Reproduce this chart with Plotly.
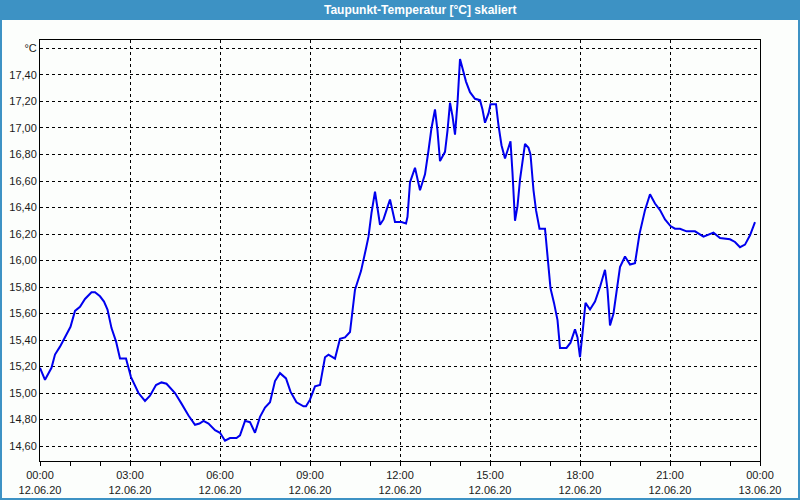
import plotly.graph_objects as go

times = ["00:00","00:10","00:23","00:30","00:40","00:50","01:01","01:10","01:20","01:30",
         "01:43","01:50","02:00","02:08","02:15","02:23","02:32","02:40","02:52","03:02",
         "03:17","03:30","03:40","03:52","04:03","04:13","04:30","04:43","04:57","05:10",
         "05:19","05:27","05:37","05:50","06:00","06:10","06:20","06:33","06:40","06:50",
         "07:00","07:10","07:20","07:30","07:40","07:50","08:00","08:12","08:21","08:33",
         "08:47","08:52","09:00","09:10","09:20","09:30","09:37","09:50","10:00","10:10",
         "10:20","10:30","10:42","10:52","10:57","11:03","11:10","11:20","11:27","11:33",
         "11:40","11:50","12:03","12:12","12:15","12:20","12:30","12:40","12:50","12:57",
         "13:03","13:10","13:15","13:20","13:30","13:35","13:40","13:45","13:50","13:55",
         "14:00","14:05","14:12","14:20","14:30","14:40","14:45","14:50","14:57","15:01",
         "15:12","15:17","15:23","15:30","15:37","15:41","15:45","15:50","15:55","16:00",
         "16:10","16:17","16:21","16:27","16:32","16:39","16:50","16:57","17:01","17:08",
         "17:15","17:20","17:33","17:41","17:50","17:55","18:00","18:05","18:11","18:20",
         "18:30","18:40","18:50","18:55","19:00","19:07","19:13","19:20","19:30","19:40",
         "19:50","19:59","20:10","20:20","20:30","20:40","20:50","21:01","21:10","21:20",
         "21:33","21:50","22:07","22:27","22:40","23:00","23:10","23:20","23:30","23:40",
         "23:50"]

dewpoint = [15.19,15.10,15.19,15.29,15.35,15.42,15.50,15.62,15.65,15.71,
            15.76,15.76,15.73,15.69,15.63,15.49,15.39,15.26,15.26,15.12,
            15.00,14.94,14.98,15.06,15.08,15.07,15.00,14.92,14.83,14.76,
            14.77,14.79,14.77,14.72,14.70,14.64,14.66,14.66,14.68,14.79,
            14.78,14.70,14.82,14.89,14.93,15.09,15.15,15.11,15.01,14.93,
            14.90,14.90,14.95,15.05,15.06,15.27,15.29,15.26,15.41,15.42,
            15.46,15.78,15.92,16.09,16.18,16.36,16.52,16.27,16.31,16.38,
            16.46,16.29,16.29,16.28,16.33,16.59,16.70,16.53,16.65,16.83,
            17.00,17.14,16.98,16.75,16.82,16.98,17.19,17.09,16.95,17.19,
            17.52,17.45,17.35,17.27,17.22,17.21,17.14,17.04,17.11,17.18,
            17.18,17.02,16.87,16.77,16.85,16.90,16.66,16.30,16.41,16.61,
            16.88,16.85,16.80,16.53,16.38,16.24,16.24,15.98,15.79,15.68,
            15.55,15.34,15.34,15.38,15.48,15.42,15.27,15.45,15.68,15.63,
            15.69,15.80,15.93,15.78,15.51,15.60,15.78,15.95,16.03,15.97,
            15.98,16.20,16.38,16.50,16.43,16.38,16.31,16.26,16.24,16.24,
            16.22,16.22,16.18,16.21,16.17,16.16,16.14,16.10,16.12,16.19,
            16.29]

y_ticks = [14.6, 14.8, 15.0, 15.2, 15.4, 15.6, 15.8, 16.0, 16.2, 16.4, 16.6, 16.8, 17.0, 17.2, 17.4, 17.6]
y_ticktext = ["14,60","14,80","15,00","15,20","15,40","15,60","15,80","16,00","16,20",
              "16,40","16,60","16,80","17,00","17,20","17,40","°C"]
x_ticks = ["2020-06-12 00:00","2020-06-12 03:00","2020-06-12 06:00","2020-06-12 09:00",
           "2020-06-12 12:00","2020-06-12 15:00","2020-06-12 18:00","2020-06-12 21:00",
           "2020-06-13 00:00"]
x_ticktext = ["00:00<br>12.06.20","03:00<br>12.06.20","06:00<br>12.06.20","09:00<br>12.06.20",
              "12:00<br>12.06.20","15:00<br>12.06.20","18:00<br>12.06.20","21:00<br>12.06.20",
              "00:00<br>13.06.20"]
title = "Taupunkt-Temperatur [°C] skaliert"

x_dates = ["2020-06-12 " + t for t in times]

W, H = 800, 500
L, R, T, B = 40, 40, 40, 39
pw, ph = W - L - R, H - T - B

def px(x):
    return (x - L) / pw

def py(y):
    return (H - B - y) / ph

BLUE = "#3D92C4"
FONT = "Liberation Sans"
TXT = "#1a1a1a"

fig = go.Figure()
fig.add_trace(go.Scatter(x=x_dates, y=dewpoint, mode="lines",
                         line=dict(color="#0000EE", width=2), hoverinfo="skip"))

shapes = [
    dict(type="rect", xref="paper", yref="paper", x0=px(0), x1=px(W), y0=py(0), y1=py(20),
         fillcolor=BLUE, line=dict(width=0), layer="above"),
    dict(type="rect", xref="paper", yref="paper", x0=px(0), x1=px(2), y0=py(0), y1=py(H),
         fillcolor=BLUE, line=dict(width=0), layer="above"),
    dict(type="rect", xref="paper", yref="paper", x0=px(W - 2), x1=px(W), y0=py(0), y1=py(H),
         fillcolor=BLUE, line=dict(width=0), layer="above"),
    dict(type="rect", xref="paper", yref="paper", x0=px(0), x1=px(W), y0=py(H - 2), y1=py(H),
         fillcolor=BLUE, line=dict(width=0), layer="above"),
]

fig.update_layout(
    width=W, height=H,
    margin=dict(l=L, r=R, t=T, b=B, autoexpand=False),
    paper_bgcolor="#FCFEFC",
    plot_bgcolor="#FCFEFC",
    showlegend=False,
    font=dict(family=FONT, size=11, color=TXT),
    shapes=shapes,
    annotations=[dict(text=title, xref="paper", yref="paper", x=px(420), y=py(10),
                      xanchor="center", yanchor="middle", showarrow=False,
                      font=dict(family=FONT, size=12, color="white", weight="bold"))],
    xaxis=dict(
        type="date", automargin=False,
        range=["2020-06-12 00:00", "2020-06-13 00:00"],
        tickvals=x_ticks, ticktext=x_ticktext,
        showgrid=True, gridcolor="black", gridwidth=1, griddash="3px,3px",
        showline=True, linecolor="black", linewidth=1, mirror=True,
        ticks="outside", ticklen=4, tickcolor="black", tickwidth=1,
        minor=dict(dtick=3600000, ticks="outside", ticklen=4, tickcolor="black", showgrid=False),
        zeroline=False, fixedrange=True,
        tickfont=dict(family=FONT, size=11, color=TXT),
    ),
    yaxis=dict(
        automargin=False,
        range=[14.487, 17.664],
        tickvals=y_ticks, ticktext=y_ticktext,
        showgrid=True, gridcolor="black", gridwidth=1, griddash="3px,3px",
        showline=True, linecolor="black", linewidth=1, mirror=True,
        ticks="", zeroline=False, fixedrange=True,
        tickfont=dict(family=FONT, size=11, color=TXT),
    ),
)

fig.write_html("out.html", config={"displayModeBar": False})
